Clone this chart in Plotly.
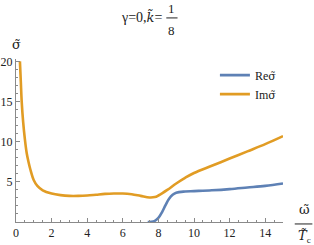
import plotly.graph_objects as go

# Data
omega_im = [0.22, 0.27, 0.32, 0.4, 0.5, 0.6, 0.7, 0.8, 1.0, 1.2, 1.5, 2.0, 2.5, 3.0, 3.5,
            4.0, 4.5, 5.0, 5.5, 6.0, 6.5, 7.0, 7.5, 7.8, 8.0, 8.5, 9.0, 9.5, 10.0, 11.0,
            12.0, 13.0, 14.0, 15.0]
im_sigma = [20.0, 17.5, 15.0, 12.5, 10.3, 8.6, 7.5, 6.6, 5.2, 4.5, 3.95, 3.55, 3.35, 3.25, 3.25,
            3.3, 3.4, 3.5, 3.55, 3.55, 3.45, 3.25, 3.05, 3.1, 3.3, 4.0, 4.8, 5.5, 6.1, 7.0,
            7.9, 8.8, 9.7, 10.7]

omega_re = [7.4, 7.6, 7.8, 8.0, 8.2, 8.4, 8.6, 8.8, 9.0, 9.5, 10.0, 11.0, 12.0, 13.0, 14.0, 15.0]
re_sigma = [0.0, 0.03, 0.15, 0.5, 1.2, 2.1, 2.9, 3.4, 3.65, 3.8, 3.85, 3.95, 4.1, 4.3, 4.5, 4.8]

x_ticks = [0, 2, 4, 6, 8, 10, 12, 14]
y_ticks = [5, 10, 15, 20]

BLUE = "#5E81B5"
ORANGE = "#E19C24"
FONT = "'Liberation Serif', 'Times New Roman', serif"
AXC = "#8a8a8a"
TXT = "#222"


def dj(s, size):
    return "<span style='font-family:DejaVu Serif;font-size:%dpx'>%s</span>" % (size, s)


fig = go.Figure()
fig.add_trace(go.Scatter(x=omega_re, y=re_sigma, mode="lines", name="Re" + dj("σ̃", 11),
                         line=dict(color=BLUE, width=2.6, shape="spline")))
fig.add_trace(go.Scatter(x=omega_im, y=im_sigma, mode="lines", name="Im" + dj("σ̃", 11),
                         line=dict(color=ORANGE, width=2.6, shape="spline")))

fig.update_layout(
    width=314, height=245,
    margin=dict(l=16, r=31, t=59, b=23),
    plot_bgcolor="white", paper_bgcolor="white",
    font=dict(family=FONT, size=12, color=TXT),
    showlegend=True,
    legend=dict(x=0.745, y=0.99, xanchor="left", yanchor="top",
                bgcolor="rgba(0,0,0,0)", itemwidth=30,
                font=dict(family=FONT, size=12, color=TXT)),
    xaxis=dict(range=[0, 15], showgrid=False, zeroline=False, automargin=False,
               showline=True, linecolor=AXC, linewidth=1,
               ticks="inside", ticklen=4, tickcolor=AXC,
               tickvals=x_ticks, ticktext=[str(v) for v in x_ticks],
               minor=dict(dtick=0.5, ticks="inside", ticklen=2, tickcolor=AXC),
               tickfont=dict(family=FONT, size=12, color=TXT)),
    yaxis=dict(range=[0, 20.3], showgrid=False, zeroline=False, automargin=False,
               showline=True, linecolor=AXC, linewidth=1,
               ticks="inside", ticklen=4, tickcolor=AXC,
               tickvals=y_ticks, ticktext=[str(v) for v in y_ticks],
               minor=dict(dtick=1, ticks="inside", ticklen=2, tickcolor=AXC),
               tickfont=dict(family=FONT, size=12, color=TXT)),
)


def note(x, y, text, xanchor="center", size=12):
    fig.add_annotation(xref="paper", yref="paper", x=x, y=y, xanchor=xanchor, yanchor="middle",
                       text=text, showarrow=False, font=dict(family=FONT, size=size, color=TXT))


# Title with stacked fraction
note(0.556, 1.26, "γ=0," + dj("<i>k̃</i>", 13) + "=", xanchor="right", size=14)
note(0.584, 1.31, "1", size=13)
note(0.584, 1.175, "8", size=13)
fig.add_shape(type="line", xref="paper", yref="paper", x0=0.563, x1=0.605, y0=1.252, y1=1.252,
              line=dict(color=TXT, width=1))

# Y axis label
note(0.0, 1.09, dj("σ̃", 13), size=13)

# X axis label as fraction
note(1.079, 0.075, dj("ω̃", 13), size=13)
fig.add_shape(type="line", xref="paper", yref="paper", x0=1.044, x1=1.11, y0=-0.012, y1=-0.012,
              line=dict(color=TXT, width=1))
note(1.079, -0.09, dj("<i>T̃</i>", 13) + "<sub>c</sub>", size=13)

fig.write_html("out.html", config={"displayModeBar": False},
               post_script="document.body.style.margin='0';")
